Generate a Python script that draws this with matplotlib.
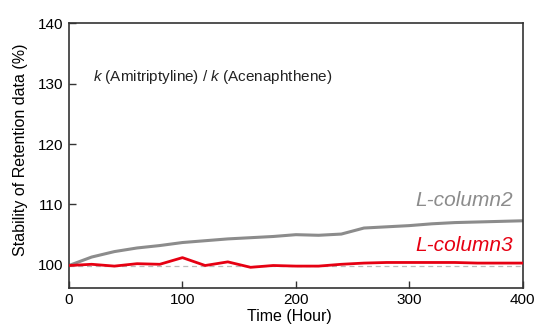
import numpy as np
import matplotlib.pyplot as plt

plt.rcParams['font.family'] = ['Liberation Sans', 'DejaVu Sans']
plt.rcParams['mathtext.fontset'] = 'custom'
plt.rcParams['mathtext.it'] = 'Liberation Sans:italic'
plt.rcParams['mathtext.rm'] = 'Liberation Sans'

hours = [0, 20, 40, 60, 80, 100, 120, 140, 160, 180, 200, 220, 240, 260, 280, 300, 320, 340, 360, 380, 400]
col2 = [99.9, 101.3, 102.2, 102.8, 103.2, 103.7, 104.0, 104.3, 104.5, 104.7, 105.0, 104.9, 105.1, 106.1, 106.3, 106.5, 106.8, 107.0, 107.1, 107.2, 107.3]
col3 = [99.9, 100.1, 99.8, 100.2, 100.1, 101.2, 99.9, 100.5, 99.6, 99.9, 99.8, 99.8, 100.1, 100.3, 100.4, 100.4, 100.4, 100.4, 100.3, 100.3, 100.3]
baseline = 99.8

fig = plt.figure(figsize=(5.39, 3.26), dpi=100)
ax = fig.add_axes([0.128, 0.117, 0.842, 0.812])

ax.axhline(baseline, color='#bbbbbb', lw=0.9, ls=(0, (4, 3)), zorder=1)
ax.plot(hours, col2, color='#8c8c8c', lw=2.2, zorder=2)
ax.plot(hours, col3, color='#e60012', lw=2.0, zorder=3)

ax.set_xlim(0, 400)
ax.set_ylim(96.2, 140)
ax.set_xticks([0, 100, 200, 300, 400])
ax.set_yticks([100, 110, 120, 130, 140])
ax.tick_params(direction='in', length=5, width=1, labelsize=11, color='#333333', pad=4)
for s in ax.spines.values():
    s.set_linewidth(1.2)
    s.set_color('#333333')

ax.set_xlabel('Time (Hour)', fontsize=11.5)
ax.set_ylabel('Stability of Retention data (%)', fontsize=11.5)
ax.xaxis.set_label_coords(0.486, -0.08)
ax.yaxis.set_label_coords(-0.09, 0.52)

ax.text(0.052, 0.797, r'$\it{k}$ (Amitriptyline) / $\it{k}$ (Acenaphthene)', transform=ax.transAxes,
        fontsize=11, color='#222222', va='center')
ax.text(391, 110.6, 'L-column2', color='#8c8c8c', fontsize=15, style='italic', ha='right', va='center')
ax.text(391, 103.2, 'L-column3', color='#e60012', fontsize=15, style='italic', ha='right', va='center')

fig.savefig('out.png', dpi=100)
